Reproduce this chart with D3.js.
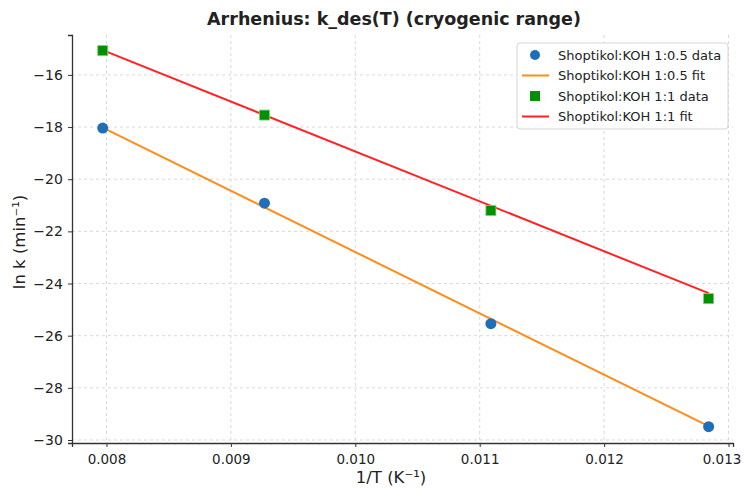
<!DOCTYPE html>
<html>
<head>
<meta charset="utf-8">
<script src="https://cdn.jsdelivr.net/npm/d3@7"></script>
<style>
  body { margin: 0; background: #fff; }
  text { font-family: "DejaVu Sans", sans-serif; fill: #222; }
  .grid line { stroke: #d9d9d9; stroke-dasharray: 3,3; stroke-width: 1; }
  .axis path, .axis line { stroke: #333; }
</style>
</head>
<body>
<div id="viz"></div>
<script>
// Data
var invT = [0.00797, 0.00927, 0.01109, 0.01284];
var lnk05 = [-18.04, -20.92, -25.54, -29.49];
var lnk1 = [-15.07, -17.54, -21.20, -24.58];
// fitted lines, value at first and last 1/T
var fitX = [0.00797, 0.01284];
var fit05 = [-18.02, -29.47];
var fit1 = [-15.05, -24.37];
var xTicks = [0.008, 0.009, 0.010, 0.011, 0.012, 0.013];
var yTicks = [-30, -28, -26, -24, -22, -20, -18, -16];

var w = 744, h = 492;
var margin = {top: 35, right: 11, bottom: 49, left: 72};
var width = w - margin.left - margin.right,
    height = h - margin.top - margin.bottom;

var svg = d3.select("#viz").append("svg")
  .attr("width", w).attr("height", h);

var g = svg.append("g")
  .attr("transform", "translate(" + margin.left + "," + margin.top + ")");

var x = d3.scaleLinear().domain([0.007723, 0.013036]).range([0, width]);
var y = d3.scaleLinear().domain([-30.115, -14.47]).range([height, 0]);

// grid
g.append("g").attr("class", "grid")
  .selectAll("line").data(xTicks).enter().append("line")
  .attr("x1", function(d){ return x(d); }).attr("x2", function(d){ return x(d); })
  .attr("y1", 0).attr("y2", height);
g.append("g").attr("class", "grid")
  .selectAll("line").data(yTicks).enter().append("line")
  .attr("y1", function(d){ return y(d); }).attr("y2", function(d){ return y(d); })
  .attr("x1", 0).attr("x2", width);

// axes (left + bottom only)
var fmtMinus = function(v){ return String(v).replace("-", "\u2212"); };
var xAxis = g.append("g").attr("class", "axis")
  .attr("transform", "translate(0," + height + ")")
  .call(d3.axisBottom(x).tickValues(xTicks).tickFormat(d3.format(".3f")).tickSizeOuter(0).tickSize(4));
var yAxis = g.append("g").attr("class", "axis")
  .call(d3.axisLeft(y).tickValues(yTicks).tickFormat(fmtMinus).tickSizeOuter(0).tickSize(4));
g.selectAll(".axis text").style("font-size", "14px").attr("fill", "#222")
  .style("font-family", "'DejaVu Sans', sans-serif");
g.selectAll(".axis path").attr("stroke-width", 1.3);
xAxis.selectAll("text").attr("dy", "1.0em").style("font-size", "13.5px")
  .attr("dx", function(d, i){ return i === xTicks.length - 1 ? -7 : 0; });
yAxis.selectAll("text").attr("dx", "-0.15em");

// fit lines
var line = d3.line()
  .x(function(d){ return x(d[0]); })
  .y(function(d){ return y(d[1]); });
g.append("path").datum(d3.zip(fitX, fit05)).attr("d", line)
  .attr("fill", "none").attr("stroke", "#ff8c1a").attr("stroke-width", 2);
g.append("path").datum(d3.zip(fitX, fit1)).attr("d", line)
  .attr("fill", "none").attr("stroke", "#ff2222").attr("stroke-width", 2);

// data markers
g.selectAll("circle.pt").data(d3.zip(invT, lnk05)).enter().append("circle")
  .attr("class", "pt")
  .attr("cx", function(d){ return x(d[0]); })
  .attr("cy", function(d){ return y(d[1]); })
  .attr("r", 5.5).attr("fill", "#1f6fb8");
g.selectAll("rect.pt").data(d3.zip(invT, lnk1)).enter().append("rect")
  .attr("class", "pt")
  .attr("x", function(d){ return x(d[0]) - 5; })
  .attr("y", function(d){ return y(d[1]) - 5; })
  .attr("width", 10).attr("height", 10)
  .attr("fill", "#009000").attr("stroke", "#7ccf7c").attr("stroke-width", 0.8);

// titles
svg.append("text").attr("x", 394).attr("y", 25)
  .attr("text-anchor", "middle").style("font-size", "17.5px").style("font-weight", "bold")
  .text("Arrhenius: k_des(T) (cryogenic range)");
svg.append("text").attr("x", 391).attr("y", 483)
  .attr("text-anchor", "middle").style("font-size", "16.5px")
  .text("1/T (K\u207B\u00B9)");
svg.append("text").attr("transform", "translate(25,242) rotate(-90)")
  .attr("text-anchor", "middle").style("font-size", "16.5px")
  .text("ln k (min\u207B\u00B9)");

// legend
var legend = [
  {label: "Shoptikol:KOH 1:0.5 data", type: "circle", color: "#1f6fb8"},
  {label: "Shoptikol:KOH 1:0.5 fit", type: "line", color: "#ff8c1a"},
  {label: "Shoptikol:KOH 1:1 data", type: "square", color: "#009000"},
  {label: "Shoptikol:KOH 1:1 fit", type: "line", color: "#ff2222"}
];
var lg = svg.append("g").attr("transform", "translate(517,43)");
lg.append("rect").attr("width", 211).attr("height", 86).attr("rx", 3)
  .attr("fill", "#fff").attr("fill-opacity", 0.85).attr("stroke", "#d6d6d6");
var item = lg.selectAll("g.item").data(legend).enter().append("g")
  .attr("class", "item")
  .attr("transform", function(d, i){ return "translate(0," + (12 + i * 20.5) + ")"; });
item.each(function(d){
  var s = d3.select(this);
  if (d.type === "circle") s.append("circle").attr("cx", 18).attr("r", 5).attr("fill", d.color);
  if (d.type === "square") s.append("rect").attr("x", 13).attr("y", -5).attr("width", 10).attr("height", 10).attr("fill", d.color);
  if (d.type === "line") s.append("line").attr("x1", 5).attr("x2", 32).attr("stroke", d.color).attr("stroke-width", 2);
});
item.append("text").attr("x", 41).attr("dy", "0.35em").style("font-size", "13px")
  .text(function(d){ return d.label; });
</script>
</body>
</html>
